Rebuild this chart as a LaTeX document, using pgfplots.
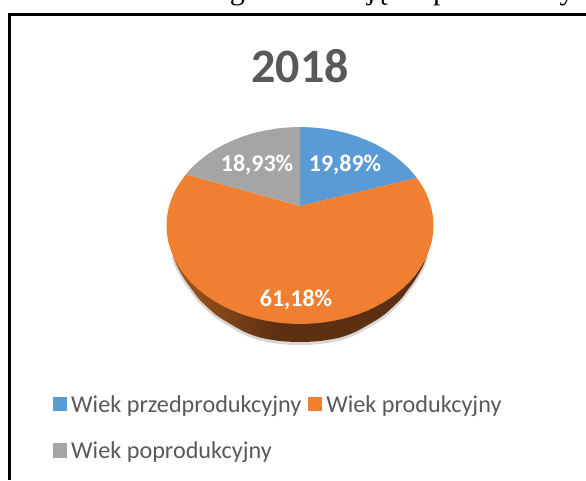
\documentclass[border=0pt]{standalone}
\usepackage{fontspec}
\setmainfont{Carlito}
\newfontfamily\timesf{Liberation Serif}
\usepackage{pgfplots}
\pgfplotsset{compat=1.18}
\definecolor{pieblue}{HTML}{5B9BD5}
\definecolor{pieorange}{HTML}{F07F31}
\definecolor{piegrey}{HTML}{A5A5A5}
\definecolor{txtgrey}{HTML}{595959}
\definecolor{sideA}{HTML}{A5581F}
\definecolor{sideB}{HTML}{5E3012}
\pgfdeclarehorizontalshading{pieside}{100bp}{color(0bp)=(sideA); color(25bp)=(sideA); color(45bp)=(sideB); color(100bp)=(sideB)}

\begin{document}
\begin{tikzpicture}
\useasboundingbox (0,0) rectangle (586pt,480pt);
\clip (0,0) rectangle (586pt,480pt);
\begin{axis}[
  at={(0,0)}, anchor=south west,
  scale only axis, width=586pt, height=480pt,
  xmin=0, xmax=586, ymin=0, ymax=480,
  y dir=reverse,
  hide axis,
  legend cell align=left,
  legend columns=2,
  legend image code/.code={\fill[#1] (0pt,-7pt) rectangle (14pt,7.5pt);},
  legend style={
    at={(axis cs:50,391)}, anchor=north west,
    draw=none, fill=none,
    font=\fontsize{24.2}{24.2}\selectfont\color{txtgrey},
    row sep=24pt,
    /tikz/every odd column/.append style={column sep=2pt},
    /tikz/every even column/.append style={column sep=5pt},
  },
]
% frame of the chart object
\addplot[forget plot, black, line width=3pt, line join=miter]
  coordinates {(9,480) (9,14.2) (586,14.2)};

% soft shadow and side wall
\addplot[forget plot, smooth, draw=gray!70, opacity=.45, line width=3pt]
  coordinates {(173,256.5) (177,267.5) (185,281.5) (193,292.5) (200,301.5) (215,315.5) (227,323.5) (245,333.5) (260,339) (280,342.5) (300,343.5)
    (320,342.5) (340,339) (355,333.5) (373,323.5) (385,315.5) (400,301.5) (407,292.5) (415,281.5) (423,267.5) (427,256.5)};
\addplot[forget plot, smooth, draw=none, shading=pieside]
  coordinates {(173,255) (177,266) (185,280) (193,291) (200,300) (215,314) (227,322) (245,332) (260,337.5) (280,341) (300,342)
    (320,341) (340,337.5) (355,332) (373,322) (385,314) (400,300) (407,291) (415,280) (423,266) (427,255)} -- cycle;

% top of the pie
\addplot[fill=pieblue, draw=none]
  coordinates {(300,206) (300,127) (311.6,127.4) (323.2,128.5) (334.6,130.4) (345.7,132.9) (356.4,136.2) (366.8,140.2) (376.6,144.8) (385.8,150) (394.4,155.8) (402.3,162.2) (409.4,169) (415.6,176.2) (416.7,178)} -- cycle;
\addlegendentry{Wiek przedprodukcyjny}
\addplot[fill=pieorange, draw=none]
  coordinates {(300,206) (416.7,178) (421,183.9) (425.5,191.8) (428.9,200) (431.5,208.4) (433,216.9) (433.5,225.5) (433,234.1) (431.5,242.6) (428.9,251) (425.5,259.2) (421,267.1) (415.6,274.8) (409.4,282) (402.3,288.8) (394.4,295.2) (385.8,301) (376.6,306.2) (366.8,310.8) (356.4,314.8) (345.7,318.1) (334.6,320.6) (323.2,322.5) (311.6,323.6) (300,324)
    (288.4,323.6) (276.8,322.5) (265.4,320.6) (254.3,318.1) (243.6,314.8) (233.2,310.8) (223.4,306.2) (214.2,301) (205.6,295.2) (197.7,288.8) (190.6,282) (184.4,274.8) (179,267.1) (174.5,259.2) (171.1,251) (168.5,242.6) (167,234.1) (166.5,225.5) (167,216.9) (168.5,208.4) (171.1,200) (174.5,191.8) (179,183.9) (186,174.2)} -- cycle;
\addlegendentry{Wiek produkcyjny}
\addplot[fill=piegrey, draw=none]
  coordinates {(300,206) (186,174.2) (190.6,169) (197.7,162.2) (205.6,155.8) (214.2,150) (223.4,144.8) (233.2,140.2) (243.6,136.2) (254.3,132.9) (265.4,130.4) (276.8,128.5) (288.4,127.4) (300,127)} -- cycle;
\addlegendentry{Wiek poprodukcyjny}

% value labels
\node[white, font=\bfseries\fontsize{24}{24}\selectfont] at (axis cs:345,165) {19,89\%};
\node[white, font=\bfseries\fontsize{24}{24}\selectfont] at (axis cs:257,165) {18,93\%};
\node[white, font=\bfseries\fontsize{24}{24}\selectfont] at (axis cs:296,300) {61,18\%};

% title
\node[txtgrey, font=\bfseries\fontsize{48}{48}\selectfont] at (axis cs:300,66) {2018};

% line of the page above the chart, only its descenders are in the crop
\node[anchor=base east, inner sep=0pt, font=\timesf\fontsize{30}{30}\selectfont] at (axis cs:245,-1) {Ludność według};
\node[anchor=base west, inner sep=0pt, font=\timesf\fontsize{30}{30}\selectfont] at (axis cs:352,-1) {ujęciu procentowym};
\end{axis}
\end{tikzpicture}
\end{document}
